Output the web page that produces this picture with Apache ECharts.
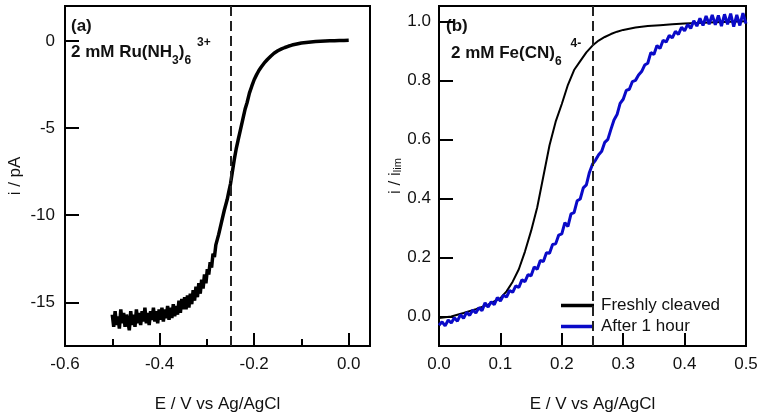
<!DOCTYPE html>
<html>
<head>
<meta charset="utf-8">
<script src="https://cdn.jsdelivr.net/npm/echarts@6/dist/echarts.min.js"></script>
<style>
  html, body { margin: 0; padding: 0; background: #fff; }
  #main { width: 763px; height: 418px; }
</style>
</head>
<body>
<div id="main"></div>
<script>
// panel (a) : Ru(NH3)6 3+, E (V) vs i (pA)
const ruCurve = [
  [-0.500,-15.7],[-0.497,-16.4],[-0.494,-15.5],[-0.491,-16.3],[-0.488,-15.8],[-0.485,-16.5],[-0.482,-15.4],
  [-0.479,-16.2],[-0.476,-15.6],[-0.473,-16.4],[-0.470,-15.7],[-0.467,-16.1],[-0.464,-16.6],[-0.461,-15.5],
  [-0.458,-16.3],[-0.455,-15.7],[-0.452,-16.4],[-0.449,-15.4],[-0.446,-16.2],[-0.443,-15.6],[-0.440,-16.3],
  [-0.437,-15.5],[-0.434,-16.1],[-0.431,-15.3],[-0.428,-16.2],[-0.425,-15.6],[-0.422,-16.3],[-0.419,-15.5],
  [-0.416,-16.0],[-0.413,-15.3],[-0.410,-16.1],[-0.407,-15.5],[-0.404,-16.2],[-0.401,-15.4],[-0.398,-16.0],
  [-0.395,-15.3],[-0.392,-16.1],[-0.389,-15.4],[-0.386,-15.9],[-0.383,-15.2],[-0.380,-16.0],[-0.377,-15.3],
  [-0.374,-15.9],[-0.371,-15.1],[-0.368,-15.8],[-0.365,-15.2],[-0.362,-15.7],[-0.359,-14.9],[-0.356,-15.6],
  [-0.353,-14.8],[-0.350,-15.4],[-0.347,-14.7],[-0.344,-15.4],[-0.341,-14.6],[-0.338,-15.3],[-0.335,-14.5],
  [-0.332,-15.1],[-0.329,-14.3],[-0.326,-14.9],[-0.323,-14.1],[-0.320,-14.7],[-0.317,-13.9],[-0.314,-14.5],
  [-0.311,-13.7],[-0.308,-14.2],[-0.305,-13.4],[-0.302,-13.9],[-0.299,-13.1],[-0.296,-13.4],[-0.293,-12.7],
  [-0.290,-13.0],[-0.287,-12.2],[-0.284,-12.4],[-0.281,-11.7],[-0.278,-11.8],[-0.275,-11.1],[-0.272,-11.1],
  [-0.269,-10.4],[-0.266,-10.3],[-0.263,-9.7],[-0.260,-9.4],[-0.257,-9.1],[-0.254,-8.7],[-0.250,-8.2],
  [-0.246,-7.5],[-0.242,-6.8],[-0.238,-6.2],[-0.234,-5.7],[-0.229,-5.1],[-0.224,-4.5],[-0.219,-3.9],
  [-0.215,-3.55],[-0.210,-3.0],[-0.205,-2.6],[-0.200,-2.23],[-0.195,-1.95],[-0.190,-1.7],[-0.185,-1.5],
  [-0.179,-1.28],[-0.172,-1.07],[-0.165,-0.88],[-0.158,-0.71],[-0.150,-0.57],[-0.142,-0.46],[-0.135,-0.38],
  [-0.128,-0.31],[-0.120,-0.24],[-0.110,-0.18],[-0.100,-0.12],[-0.090,-0.09],[-0.080,-0.06],[-0.070,-0.04],
  [-0.060,-0.02],[-0.050,-0.01],[-0.040,0.0],[-0.030,0.01],[-0.020,0.02],[-0.010,0.02],[0.000,0.03]
];
const ruXTicks = [-0.6, -0.4, -0.2, 0.0];
const ruXMinor = [-0.5, -0.3, -0.1];
const ruYTicks = [-15, -10, -5, 0];

// panel (b) : Fe(CN)6 4-, E (V) vs i / i_lim
const freshCurve = [
  [0.000,-0.005],[0.020,0.000],[0.040,0.012],[0.060,0.025],[0.080,0.040],[0.100,0.062],[0.110,0.085],
  [0.120,0.118],[0.130,0.160],[0.140,0.220],[0.150,0.290],[0.160,0.370],[0.170,0.475],[0.180,0.580],
  [0.190,0.660],[0.200,0.720],[0.210,0.785],[0.220,0.835],[0.230,0.865],[0.240,0.895],[0.250,0.918],
  [0.260,0.935],[0.270,0.947],[0.280,0.957],[0.290,0.965],[0.300,0.971],[0.320,0.979],[0.340,0.984],
  [0.360,0.987],[0.380,0.990],[0.400,0.993],[0.450,0.997],[0.500,1.000]
];
const agedCurve = [
  [0.000,-0.030],[0.005,-0.018],[0.010,-0.032],[0.015,-0.012],[0.020,-0.022],[0.025,-0.004],[0.030,-0.016],
  [0.035,0.006],[0.040,-0.006],[0.045,0.014],[0.050,0.004],[0.055,0.022],[0.060,0.012],[0.065,0.030],
  [0.070,0.020],[0.075,0.046],[0.080,0.032],[0.085,0.050],[0.090,0.040],[0.095,0.064],[0.100,0.052],
  [0.105,0.072],[0.110,0.066],[0.115,0.088],[0.120,0.082],[0.125,0.104],[0.130,0.098],[0.135,0.124],
  [0.140,0.118],[0.145,0.142],[0.150,0.138],[0.155,0.168],[0.160,0.160],[0.165,0.190],[0.170,0.186],
  [0.175,0.216],[0.180,0.214],[0.185,0.244],[0.190,0.246],[0.195,0.276],[0.200,0.280],[0.205,0.318],
  [0.210,0.305],[0.215,0.348],[0.220,0.352],[0.225,0.392],[0.230,0.398],[0.235,0.436],[0.240,0.446],
  [0.245,0.488],[0.250,0.516],[0.255,0.530],[0.260,0.548],[0.265,0.560],[0.270,0.590],[0.275,0.600],
  [0.280,0.634],[0.285,0.666],[0.290,0.684],[0.295,0.722],[0.300,0.736],[0.305,0.766],[0.310,0.770],
  [0.315,0.796],[0.320,0.800],[0.325,0.818],[0.330,0.830],[0.335,0.852],[0.340,0.858],[0.345,0.894],
  [0.350,0.888],[0.355,0.918],[0.360,0.908],[0.365,0.936],[0.370,0.930],[0.375,0.952],[0.380,0.944],
  [0.385,0.966],[0.390,0.956],[0.395,0.980],[0.400,0.968],[0.405,0.990],[0.410,0.976],[0.415,1.002],
  [0.420,0.984],[0.425,1.010],[0.430,0.986],[0.435,1.018],[0.440,0.990],[0.445,1.022],[0.450,0.988],
  [0.455,1.020],[0.460,0.984],[0.465,1.024],[0.470,0.990],[0.475,1.026],[0.480,0.982],[0.485,1.022],
  [0.490,0.986],[0.495,1.028],[0.500,0.992]
];
const feXTicks = [0.0, 0.1, 0.2, 0.3, 0.4, 0.5];
const feYTicks = [0.0, 0.2, 0.4, 0.6, 0.8, 1.0];
const halfWave = [-0.25, 0.25];

const FONT = '"Liberation Sans", Arial, sans-serif';
const INK = '#111';

const chart = echarts.init(document.getElementById('main'));

// axe commun : pas de grille, ticks vers l'intérieur
function valueAxis(extra) {
  return Object.assign({
    type: 'value',
    splitLine: { show: false },
    axisLine: { show: false, onZero: false },
    axisLabel: { color: INK, fontSize: 17, fontFamily: FONT },
    nameTextStyle: { color: INK, fontSize: 17, fontFamily: FONT }
  }, extra);
}

function ticks(len, values) {
  return { inside: true, length: len, customValues: values, lineStyle: { color: '#000', width: 2 } };
}

function dashed(x) {
  return {
    silent: true,
    symbol: 'none',
    label: { show: false },
    lineStyle: { color: '#222', width: 2, type: [10, 5] },
    data: [{ xAxis: x }]
  };
}

const option = {
  animation: false,
  backgroundColor: '#fff',
  grid: [
    { left: 65, top: 6, width: 305, height: 340, show: true, borderColor: '#000', borderWidth: 2, backgroundColor: 'transparent' },
    { left: 439, top: 6, width: 307, height: 340, show: true, borderColor: '#000', borderWidth: 2, backgroundColor: 'transparent' }
  ],
  xAxis: [
    valueAxis({
      gridIndex: 0, min: -0.6, max: 0.045, position: 'bottom',
      name: 'E / V vs Ag/AgCl', nameLocation: 'middle', nameGap: 50,
      axisTick: ticks(13, ruXTicks),
      axisLabel: { color: INK, fontSize: 17, fontFamily: FONT, margin: 10, customValues: ruXTicks,
        formatter: v => v.toFixed(1) }
    }),
    valueAxis({
      gridIndex: 0, min: -0.6, max: 0.045, position: 'bottom',
      axisTick: ticks(7, ruXMinor),
      axisLabel: { show: false }
    }),
    valueAxis({
      gridIndex: 1, min: 0, max: 0.5, position: 'bottom',
      name: 'E / V vs Ag/AgCl', nameLocation: 'middle', nameGap: 50,
      axisTick: ticks(13, feXTicks),
      axisLabel: { color: INK, fontSize: 17, fontFamily: FONT, margin: 10, customValues: feXTicks,
        formatter: v => v.toFixed(1) }
    })
  ],
  yAxis: [
    valueAxis({
      gridIndex: 0, min: -17.5, max: 2, position: 'left',
      name: 'i / pA', nameLocation: 'middle', nameGap: 41,
      axisTick: ticks(14, ruYTicks),
      axisLabel: { color: INK, fontSize: 17, fontFamily: FONT, margin: 10, customValues: ruYTicks,
        formatter: v => String(v) }
    }),
    valueAxis({
      gridIndex: 1, min: -0.1, max: 1.052, position: 'left',
      name: 'i / i{sub|lim}', nameLocation: 'middle', nameGap: 34,
      nameTextStyle: { color: INK, fontSize: 17, fontFamily: FONT,
        rich: { sub: { fontSize: 11, fontFamily: FONT, color: INK, verticalAlign: 'bottom', lineHeight: 14 } } },
      axisTick: ticks(14, feYTicks),
      axisLabel: { color: INK, fontSize: 17, fontFamily: FONT, margin: 8, customValues: feYTicks,
        formatter: v => v.toFixed(1) }
    })
  ],
  legend: {
    data: ['Freshly cleaved', 'After 1 hour'],
    orient: 'vertical',
    left: 556, top: 292,
    icon: 'rect', itemWidth: 33, itemHeight: 3.5, itemGap: 4,
    textStyle: { color: INK, fontSize: 17, fontFamily: FONT, lineHeight: 17, padding: [0, 0, 0, 2] }
  },
  graphic: [
    { type: 'text', left: 71, top: 18, style: { text: '(a)', font: 'bold 17px ' + FONT, fill: INK } },
    { type: 'text', left: 71, top: 37, style: {
      text: '{b|2 mM Ru(NH}{s|3}{b|)}{s|6}{p|3+}',
      rich: {
        b: { font: 'bold 17px ' + FONT, fill: INK, lineHeight: 30, verticalAlign: 'middle' },
        s: { font: 'bold 12px ' + FONT, fill: INK, lineHeight: 20, verticalAlign: 'bottom' },
        p: { font: 'bold 12px ' + FONT, fill: INK, lineHeight: 8, verticalAlign: 'top', padding: [0, 0, 0, 6] }
      } } },
    { type: 'text', left: 446, top: 18, style: { text: '(b)', font: 'bold 17px ' + FONT, fill: INK } },
    { type: 'text', left: 451, top: 38, style: {
      text: '{b|2 mM Fe(CN)}{s|6}{p|4-}',
      rich: {
        b: { font: 'bold 17px ' + FONT, fill: INK, lineHeight: 30, verticalAlign: 'middle' },
        s: { font: 'bold 12px ' + FONT, fill: INK, lineHeight: 20, verticalAlign: 'bottom' },
        p: { font: 'bold 12px ' + FONT, fill: INK, lineHeight: 2, verticalAlign: 'top', padding: [0, 0, 0, 9] }
      } } }
  ],
  series: [
    {
      name: 'Ru(NH3)6', type: 'line', xAxisIndex: 0, yAxisIndex: 0,
      data: ruCurve, showSymbol: false, symbol: 'none',
      lineStyle: { color: '#000', width: 3.5 },
      markLine: dashed(halfWave[0])
    },
    {
      name: 'Freshly cleaved', type: 'line', xAxisIndex: 2, yAxisIndex: 1,
      data: freshCurve, showSymbol: false, symbol: 'none',
      lineStyle: { color: '#000', width: 2 }, itemStyle: { color: '#000' },
      markLine: dashed(halfWave[1])
    },
    {
      name: 'After 1 hour', type: 'line', xAxisIndex: 2, yAxisIndex: 1,
      data: agedCurve, showSymbol: false, symbol: 'none',
      lineStyle: { color: '#0a0ac8', width: 3 }, itemStyle: { color: '#0a0ac8' }
    }
  ]
};

chart.setOption(option);
</script>
</body>
</html>
